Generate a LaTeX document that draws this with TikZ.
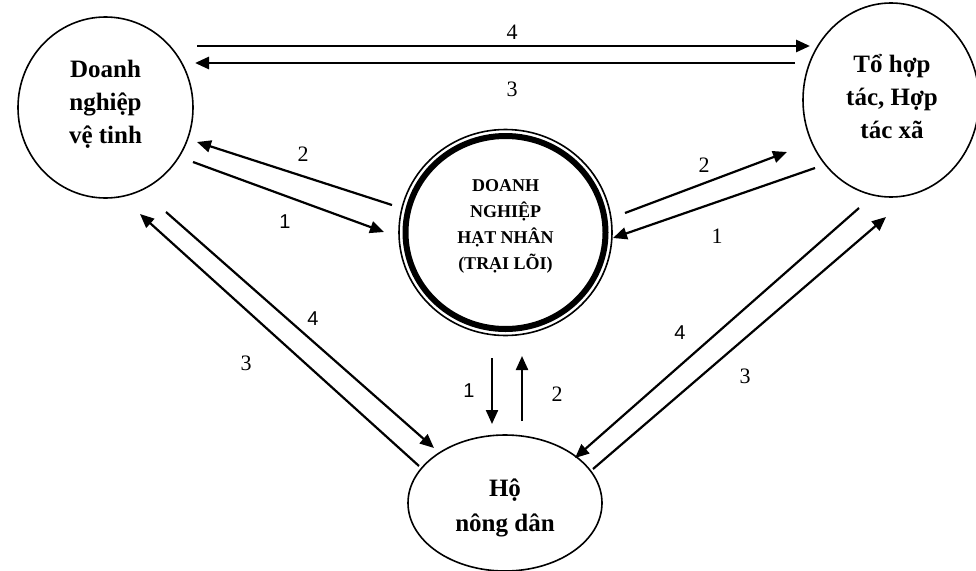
\documentclass[tikz,border=0pt]{standalone}
\usepackage{fontspec}
\setmainfont{Liberation Serif}
\newfontfamily\lsans{Liberation Sans}
\usetikzlibrary{arrows.meta,shapes.geometric}
\begin{document}
\begin{tikzpicture}[x=1pt,y=-1pt,
  ent/.style={draw, line width=1.6pt, ellipse, inner sep=0pt},
  corebox/.style={draw, line width=6pt, ellipse, inner sep=0pt},
  enttext/.style={align=center, inner sep=0pt, font=\fontsize{25}{33}\selectfont\bfseries},
  coretext/.style={align=center, inner sep=0pt, font=\fontsize{18}{26}\selectfont\bfseries},
  flow/.style={line width=2.2pt, -{Triangle[length=14pt,width=12pt]}},
  lbl/.style={font=\fontsize{22}{24}\selectfont},
  slbl/.style={font=\lsans\fontsize{20}{22}\selectfont}]
\useasboundingbox (0,0) rectangle (976,570);
% shapes
\node[ent, minimum width=175pt, minimum height=181pt] (sat) at (105.5,107.5) {};
\node[ent, minimum width=176pt, minimum height=194pt] (coop) at (891,100) {};
\node[ent, minimum width=194pt, minimum height=136pt] (farm) at (505,503) {};
\node[corebox, minimum width=200pt, minimum height=193pt] (core) at (505.5,232.5) {};
\draw[line width=1.6pt] (core.center) ellipse [x radius=106.5pt, y radius=103pt];
% texts
\node[enttext] (sattext) at (105.5,104) {Doanh\\nghiệp\\vệ tinh};
\node[enttext] (cooptext) at (892,96.5) {Tổ hợp\\tác, Hợp\\tác xã};
\node[enttext, font=\fontsize{25}{35}\selectfont\bfseries] (farmtext) at (505,508) {Hộ\\nông dân};
\node[coretext] (coretxt) at (505.5,226) {DOANH\\NGHIỆP\\HẠT NHÂN\\(TRẠI LÕI)};
% endpoints
\coordinate (t4s) at (197,46);  \coordinate (t4e) at (810,46);
\coordinate (t3s) at (795,63);  \coordinate (t3e) at (195,63);
\coordinate (lc2s) at (392,205); \coordinate (lc2e) at (197,142);
\coordinate (lc1s) at (193,162); \coordinate (lc1e) at (384,232);
\coordinate (rc2s) at (625,213); \coordinate (rc2e) at (787,152);
\coordinate (rc1s) at (815,168); \coordinate (rc1e) at (613,238);
\coordinate (b1s) at (492,358);  \coordinate (b1e) at (492,424);
\coordinate (b2s) at (522,421);  \coordinate (b2e) at (522,356);
\coordinate (ld4s) at (166,212); \coordinate (ld4e) at (434,448);
\coordinate (ld3s) at (419,466); \coordinate (ld3e) at (140,214);
\coordinate (rd4s) at (859,208); \coordinate (rd4e) at (575,458);
\coordinate (rd3s) at (593,469); \coordinate (rd3e) at (886,217);
% connectors
\draw[flow, line width=2.8pt] (t4s) -- (t4e);
\draw[flow, line width=2.8pt] (t3s) -- (t3e);
\draw[flow] (lc2s) -- (lc2e);
\draw[flow] (lc1s) -- (lc1e);
\draw[flow] (rc2s) -- (rc2e);
\draw[flow] (rc1s) -- (rc1e);
\draw[flow] (b1s) -- (b1e);
\draw[flow] (b2s) -- (b2e);
\draw[flow] (ld4s) -- (ld4e);
\draw[flow] (ld3s) -- (ld3e);
\draw[flow] (rd4s) -- (rd4e);
\draw[flow] (rd3s) -- (rd3e);
% labels
\node[lbl] (l1) at (512,32) {4};
\node[lbl] (l2) at (512,89) {3};
\node[lbl] (l3) at (303,154) {2};
\node[slbl] (l4) at (285,222) {1};
\node[lbl] (l5) at (704,165) {2};
\node[lbl] (l6) at (717,236) {1};
\node[slbl] (l7) at (469,391) {1};
\node[lbl] (l8) at (557,394) {2};
\node[slbl] (l9) at (313,319) {4};
\node[lbl] (l10) at (246,363) {3};
\node[slbl] (l11) at (680,333) {4};
\node[lbl] (l12) at (745,376) {3};
\end{tikzpicture}
\end{document}
